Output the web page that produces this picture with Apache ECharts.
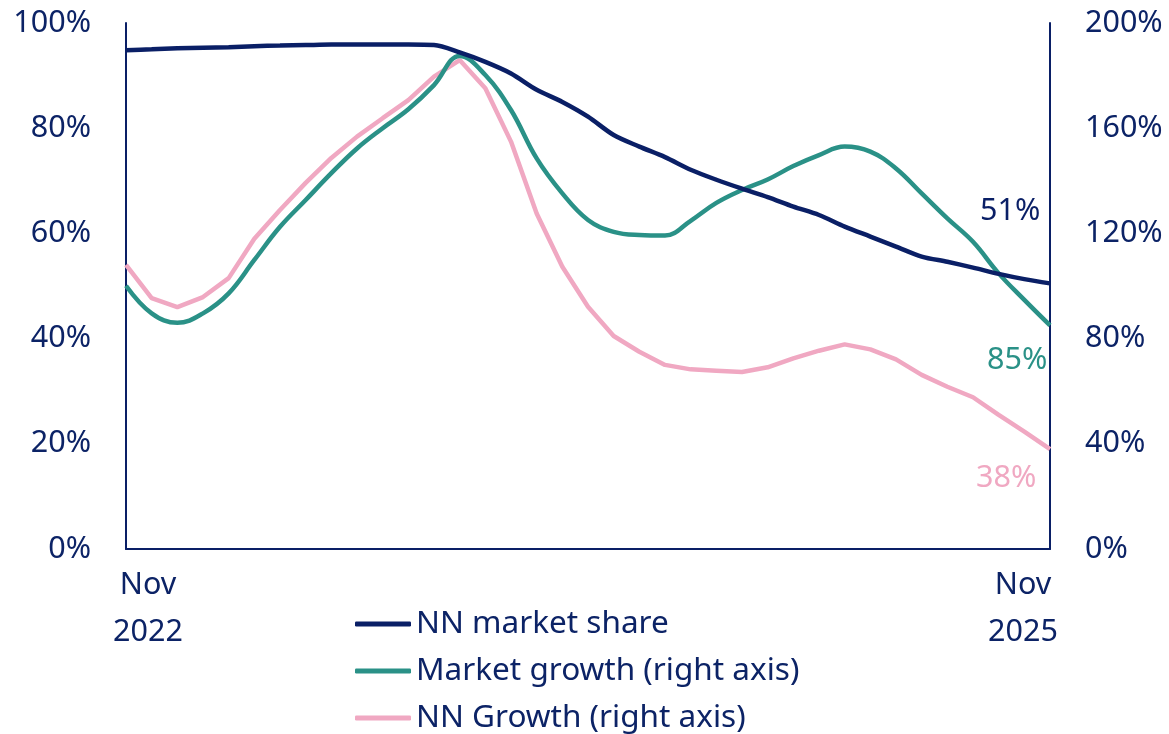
<!DOCTYPE html>
<html>
<head>
<meta charset="utf-8">
<script src="https://cdn.jsdelivr.net/npm/echarts@6/dist/echarts.min.js"></script>
<style>
html,body{margin:0;padding:0;background:#fff;}
#chart{width:1169px;height:734px;}
</style>
</head>
<body>
<div id="chart"></div>
<script>
const categories = ['Nov 2022','Dec 2022','Jan 2023','Feb 2023','Mar 2023','Apr 2023','May 2023','Jun 2023','Jul 2023','Aug 2023','Sep 2023','Oct 2023','Nov 2023','Dec 2023','Jan 2024','Feb 2024','Mar 2024','Apr 2024','May 2024','Jun 2024','Jul 2024','Aug 2024','Sep 2024','Oct 2024','Nov 2024','Dec 2024','Jan 2025','Feb 2025','Mar 2025','Apr 2025','May 2025','Jun 2025','Jul 2025','Aug 2025','Sep 2025','Oct 2025','Nov 2025'];
const nnMarketShare = [94.8,95.0,95.2,95.3,95.4,95.6,95.7,95.8,95.9,95.9,95.9,95.9,95.8,94.4,92.6,90.4,87.3,85.0,82.2,78.7,76.5,74.5,72.1,70.2,68.5,66.9,65.1,63.5,61.3,59.4,57.5,55.6,54.6,53.5,52.3,51.3,50.5];
const marketGrowth = [100.1,89.6,86.0,89.6,97.2,109.9,122.5,132.7,142.9,152.3,160.0,167.2,176.4,187.5,180.2,166.9,148.5,135.2,125.1,120.6,119.4,119.2,124.8,131.6,136.5,140.5,145.6,149.8,153.0,151.1,144.7,135.2,125.7,116.8,104.8,94.7,85.0];
const nnGrowth = [108.0,95.4,92.0,95.8,103.0,118.0,128.9,139.2,148.7,156.8,163.8,170.7,179.6,185.9,175.2,154.9,127.6,107.3,92.1,81.0,75.0,70.0,68.3,67.8,67.3,69.1,72.5,75.4,77.8,75.9,72.1,66.2,61.7,57.7,51.0,44.6,38.0];
const leftTicks = [0, 100, 20];
const rightTicks = [0, 200, 40];
const seriesNames = ['NN market share','Market growth (right axis)','NN Growth (right axis)'];

const NAVY = '#0A1F66', TEAL = '#2A9187', PINK = '#F0A8C2', TXT = '#0C2366';
const FONT = '"Noto Sans", "Open Sans", sans-serif';
const FS = 30.5;
const last = categories.length - 1;

const chart = echarts.init(document.getElementById('chart'), null, {renderer: 'canvas'});
const axisCommon = {
  type: 'value',
  splitLine: {show: false},
  axisTick: {show: false},
  axisLine: {show: true, lineStyle: {color: NAVY, width: 2}},
  axisLabel: {color: TXT, fontSize: FS, fontFamily: FONT, margin: 35, formatter: v => v + '%'}
};
function endLab(color, offset) {
  return {show: true, color: color, fontSize: FS, fontFamily: FONT, offset: offset,
    formatter: p => Math.round(p.value) + '%'};
}
chart.setOption({
  animation: false,
  backgroundColor: '#fff',
  grid: {left: 126, right: 119, top: 23, bottom: 185, containLabel: false},
  legend: {
    orient: 'vertical', left: 350, top: 603, height: 300, itemWidth: 56, itemHeight: 5, itemGap: 15,
    icon: 'roundRect',
    textStyle: {color: TXT, fontSize: 31.5, fontFamily: FONT},
    data: seriesNames
  },
  xAxis: {
    type: 'category', data: categories, boundaryGap: false,
    axisTick: {show: false},
    axisLine: {lineStyle: {color: NAVY, width: 2}},
    axisLabel: {
      interval: (i) => i === 0 || i === last,
      margin: 13,
      formatter: (v, i) => {
        const parts = v.split(' ');
        const k = i === 0 ? 'f' : 'l';
        return '{' + k + '|' + parts[0] + '}\n{' + k + '|' + parts[1] + '}';
      },
      rich: {
        f: {color: TXT, fontSize: FS, fontFamily: FONT, lineHeight: 47, padding: [0, 0, 0, 44]},
        l: {color: TXT, fontSize: FS, fontFamily: FONT, lineHeight: 47, padding: [0, 54, 0, 0]}
      }
    }
  },
  yAxis: [
    Object.assign({}, axisCommon, {min: leftTicks[0], max: leftTicks[1], interval: leftTicks[2], position: 'left'}),
    Object.assign({}, axisCommon, {min: rightTicks[0], max: rightTicks[1], interval: rightTicks[2], position: 'right'})
  ],
  series: [
    {name: seriesNames[0], type: 'line', yAxisIndex: 0, data: nnMarketShare, smooth: 0.3,
     showSymbol: false, symbol: 'none', color: NAVY, lineStyle: {width: 4.5, color: NAVY}, z: 3,
     endLabel: endLab(NAVY, [-78, -72])},
    {name: seriesNames[1], type: 'line', yAxisIndex: 1, data: marketGrowth, smooth: 0.4,
     showSymbol: false, symbol: 'none', color: TEAL, lineStyle: {width: 4.5, color: TEAL}, z: 2,
     endLabel: endLab(TEAL, [-71, 35])},
    {name: seriesNames[2], type: 'line', yAxisIndex: 1, data: nnGrowth, smooth: false,
     showSymbol: false, symbol: 'none', color: PINK, lineStyle: {width: 4.5, color: PINK}, z: 1,
     endLabel: endLab(PINK, [-82, 29])}
  ]
});
</script>
</body>
</html>
